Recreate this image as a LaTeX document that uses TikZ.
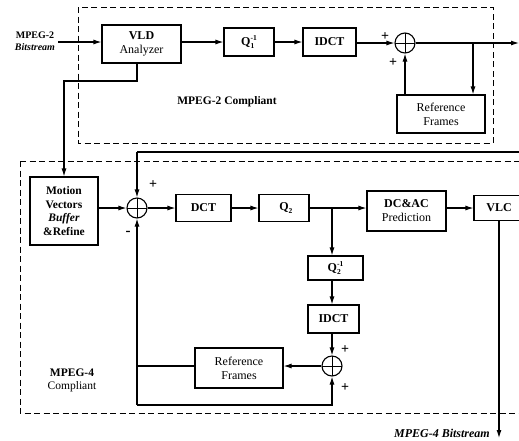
\documentclass[tikz,border=0pt]{standalone}
\usepackage{fontspec}
\setmainfont{Liberation Serif}
\usetikzlibrary{arrows.meta}
\newcommand\qlab[2]{Q\rlap{\raisebox{-3pt}{\fontsize{7.5}{7.5}\selectfont #1}}\raisebox{4.5pt}{\fontsize{7.5}{7.5}\selectfont #2}}
\begin{document}
\begin{tikzpicture}[x=1pt,y=-1pt,
  blk/.style={draw,line width=1.1pt,rectangle,align=center,inner sep=0pt,
     font=\fontsize{12}{14}\selectfont\bfseries},
  sumj/.style={draw,line width=1.1pt,circle,minimum size=20pt,inner sep=0pt,
     path picture={\draw[line width=0.9pt] (path picture bounding box.north) -- (path picture bounding box.south)
        (path picture bounding box.west) -- (path picture bounding box.east);}},
  con/.style={line width=1.1pt},
  arr/.style={line width=1.1pt,-{Latex[length=8pt,width=5pt]}},
  frame/.style={line width=1pt,dash pattern=on 6pt off 3.5pt},
  lab/.style={font=\fontsize{11.5}{13}\selectfont\bfseries,align=center,inner sep=0pt},
  sgn/.style={font=\fontsize{14}{14}\selectfont\bfseries,inner sep=0pt}]
\useasboundingbox (0,0) rectangle (519,440);
\fill[white] (0,0) rectangle (519,440);
% dashed frames
\draw[frame] (78,7) rectangle (493,143);
\draw[frame] (20,161) -- (20,413) -- (540,413);
\draw[frame] (20,161) -- (540,161);
% MPEG-2 part
\node[lab,font=\fontsize{10}{12.5}\selectfont\bfseries] (inlab) at (35,41) {MPEG-2\\\textit{Bitstream}};
\node[blk,minimum width=79pt,minimum height=38pt] (vld) at (141.5,44) {VLD\\\mdseries Analyzer};
\node[blk,minimum width=50pt,minimum height=28pt] (q1) at (249,42) {\qlab{1}{-1}};
\node[blk,minimum width=53pt,minimum height=28pt] (idct1) at (329.5,42) {IDCT};
\node[sumj] (s1) at (405,43) {};
\node[blk,minimum width=88pt,minimum height=38pt,font=\fontsize{12}{14}\selectfont] (ref1) at (441,114) {Reference\\Frames};
\node[lab] (m2lab) at (227,102) {MPEG-2 Compliant};
\coordinate (inst) at (58,42);
\coordinate (out2) at (519,43);
\coordinate (br1) at (473,43);
\draw[arr] (inst) -- (vld.west |- inst);
\draw[arr] (vld.east |- q1) -- (q1.west);
\draw[arr] (q1) -- (idct1);
\draw[arr] (idct1.east |- s1) -- (s1.west);
\draw[arr] (s1.east) -- (out2);
\draw[arr] (br1) -- (br1 |- ref1.north);
\draw[arr] (s1 |- ref1.north) -- (s1.south);
\node[sgn] (p1) at (385,37) {+};
\node[sgn] (p2) at (393,63) {+};
% VLD to motion vectors
\node[blk,minimum width=68pt,minimum height=68pt,font=\fontsize{11.5}{13.5}\selectfont\bfseries] (mv) at (64,211) {Motion\\Vectors\\\textit{Buffer}\\\&Refine};
\coordinate (vb) at (137,81);
\draw[arr] (vld.south -| vb) -- (vb) -| (mv.north);
% MPEG-4 part
\node[sumj] (s2) at (137,208) {};
\node[blk,minimum width=55pt,minimum height=27pt] (dct) at (203.5,208) {DCT};
\node[blk,minimum width=50pt,minimum height=27pt] (q2) at (284,208) {\qlab{2}{}};
\node[blk,minimum width=79pt,minimum height=40pt] (dcac) at (406.5,211) {DC\&AC\\\mdseries Prediction};
\node[blk,minimum width=50pt,minimum height=25pt] (vlc) at (499,208) {VLC};
\node[blk,minimum width=55pt,minimum height=24pt] (q2i) at (335.5,268) {\qlab{2}{-1}};
\node[blk,minimum width=51pt,minimum height=28pt] (idct2) at (333.5,319) {IDCT};
\node[sumj] (s3) at (332,366) {};
\node[blk,minimum width=88pt,minimum height=40pt,font=\fontsize{12}{14}\selectfont] (ref2) at (239,368) {Reference\\Frames};
\coordinate (fbr) at (540,152);
\coordinate (fbl) at (137,152);
\coordinate (lbl) at (137,405);
\coordinate (lbr) at (332,405);
\coordinate (br2) at (332,208);
\coordinate (out4) at (499,438);
\draw[con] (fbr) -- (fbl);
\draw[arr] (fbl) -- (s2.north);
\draw[arr] (mv.east |- s2) -- (s2.west);
\draw[arr] (s2.east) -- (dct.west);
\draw[arr] (dct) -- (q2);
\draw[arr] (q2.east) -- (dcac.west |- q2);
\draw[arr] (dcac.east |- vlc) -- (vlc.west);
\draw[arr] (br2) -- (q2i.north -| br2);
\draw[arr] (q2i.south -| s3) -- (idct2.north -| s3);
\draw[arr] (idct2.south -| s3) -- (s3.north);
\draw[arr] (s3.west) -- (ref2.east |- s3);
\draw[con] (ref2.west |- s3) -- (s3 -| lbl);
\draw[arr] (lbl) -- (s2.south);
\draw[arr] (lbl) -- (lbr) -- (s3.south);
\draw[arr] (vlc.south) -- (out4);
\node[sgn] (p3) at (153,185) {+};
\node[sgn,font=\fontsize{15}{15}\selectfont\bfseries] (m1) at (128,233) {-};
\node[sgn] (p4) at (345,350) {+};
\node[sgn] (p5) at (345,388) {+};
\node[lab] (m4lab) at (72,380) {MPEG-4\\\mdseries Compliant};
\node[lab,anchor=east,font=\fontsize{12}{13}\selectfont\bfseries\itshape] (obl) at (490,433) {MPEG-4 Bitstream};
\end{tikzpicture}
\end{document}
